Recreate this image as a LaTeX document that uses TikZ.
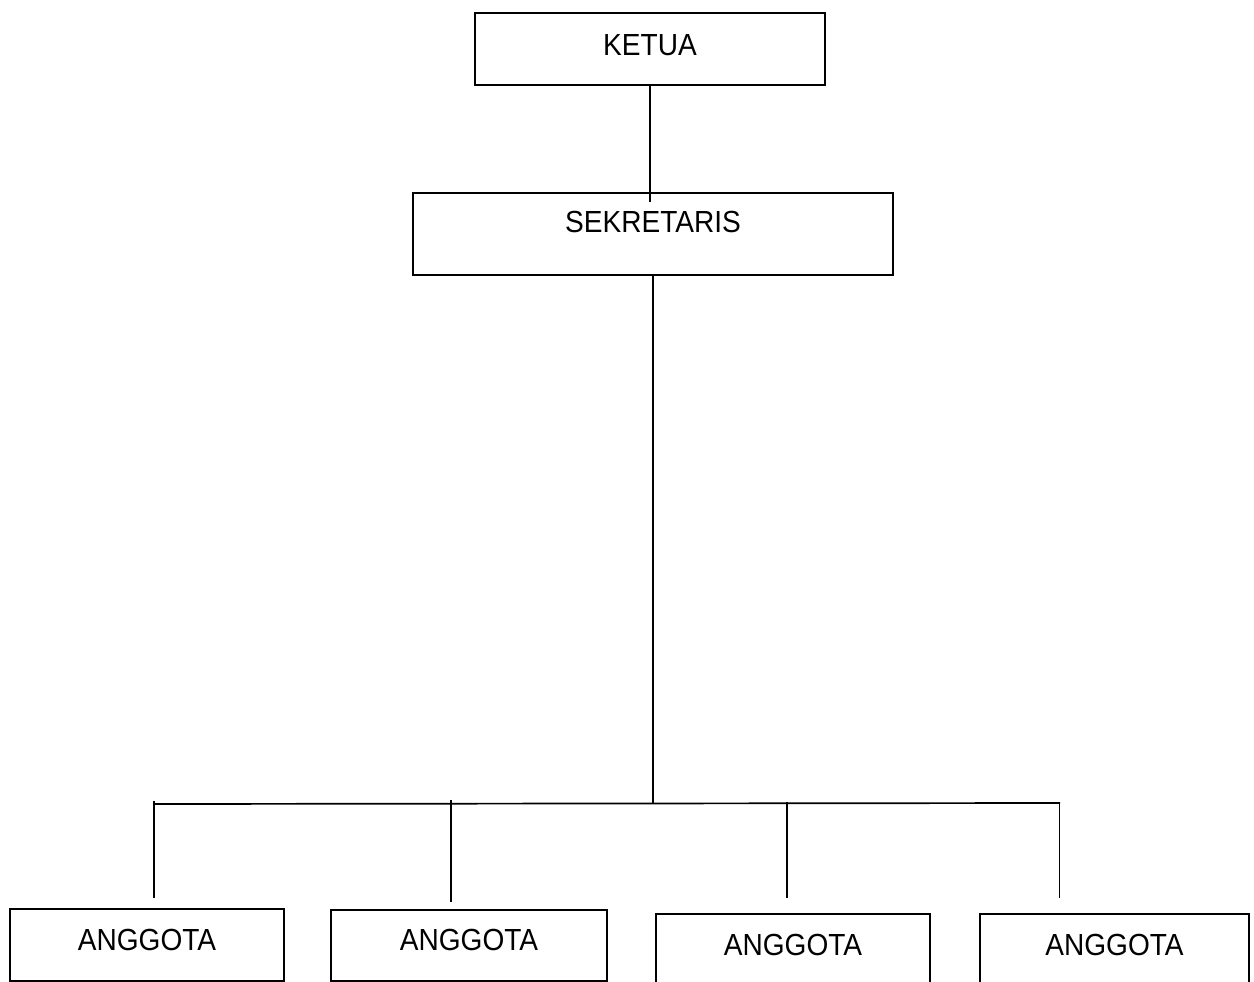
\documentclass[tikz,border=0pt]{standalone}
\usepackage{fontspec}
\setmainfont{Liberation Sans}[FakeStretch=0.92]
\begin{document}
\begin{tikzpicture}[x=1pt,y=-1pt,
  box/.style={draw,line width=1.7pt,rectangle,inner sep=0pt,anchor=north,
    font=\fontsize{30.5}{36}\selectfont,text height=42pt,text depth=30pt},
  conn/.style={line width=1.7pt}]
\clip (0,0) rectangle (1254,982);
\fill[white] (0,0) rectangle (1254,982);
\node[box,minimum width=350pt,text height=43pt,text depth=29pt] (ketua) at (650,12) {KETUA};
\node[box,minimum width=480pt,text height=40pt,text depth=42pt] (sek) at (653,192) {SEKRETARIS};
\node[box,minimum width=274pt] (a1) at (147,908) {ANGGOTA};
\node[box,minimum width=276pt,text height=41pt] (a2) at (469,909) {ANGGOTA};
\node[box,minimum width=274pt] (a3) at (793,913) {ANGGOTA};
\node[box,minimum width=269pt] (a4) at (1114.5,913) {ANGGOTA};
\coordinate (kend) at (650,202);
\coordinate (hub) at (653,804);
\coordinate (hl) at (155,804);
\coordinate (hr) at (1060,803);
\coordinate (t1a) at (154,801); \coordinate (t1b) at (154,898);
\coordinate (t2a) at (451,800); \coordinate (t2b) at (451,902);
\coordinate (t3a) at (787,802); \coordinate (t3b) at (787,898);
\coordinate (t4a) at (1059.5,802); \coordinate (t4b) at (1059.5,898);
\draw[conn] (ketua.south) -- (kend);
\draw[conn] (sek.south) -- (hub);
\draw[conn] (hl) -- (hr);
\draw[conn] (t1a) -- (t1b);
\draw[conn] (t2a) -- (t2b);
\draw[conn] (t3a) -- (t3b);
\draw[conn] (t4a) -- (t4b);
\end{tikzpicture}
\end{document}
